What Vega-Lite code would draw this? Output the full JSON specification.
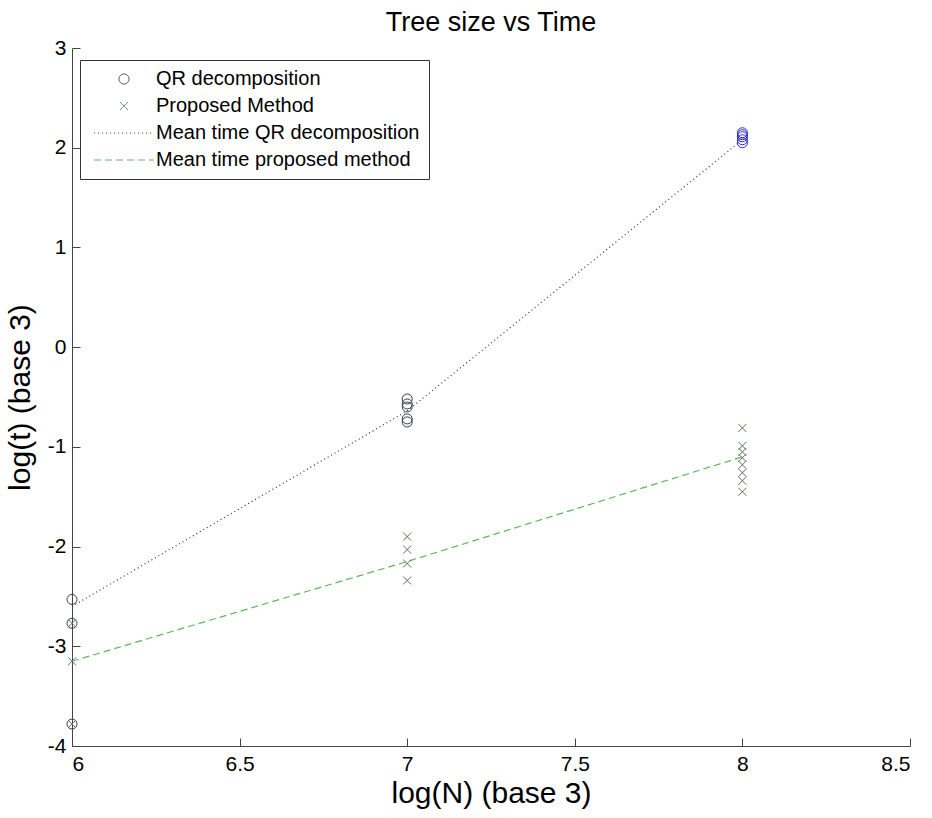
{
  "$schema": "https://vega.github.io/schema/vega-lite/v6.json",
  "width": 838,
  "height": 698,
  "autosize": {"type": "none"},
  "padding": {"left": 72, "top": 48, "right": 22, "bottom": 72},
  "background": "white",
  "title": {"text": "Tree size vs Time", "font": "Liberation Sans", "fontSize": 27, "fontWeight": "normal", "color": "black", "anchor": "middle", "offset": 0},
  "config": {
    "view": {"stroke": null},
    "axis": {
      "labelFont": "Liberation Sans", "labelFontSize": 21, "labelColor": "black",
      "titleFont": "Liberation Sans", "titleFontSize": 30, "titleFontWeight": "normal", "titleColor": "black",
      "domainColor": "#444", "tickColor": "#444", "grid": false, "tickSize": -8,
      "labelExpr": "replace(datum.label, '−', '-')"
    },
    "legend": {
      "orient": "none", "legendX": 8, "legendY": 12,
      "strokeColor": "#333", "fillColor": "white", "padding": 9,
      "labelFont": "Liberation Sans", "labelFontSize": 20, "labelColor": "black", "labelLimit": 0,
      "symbolSize": 100, "symbolStrokeWidth": 1, "symbolOffset": 25, "labelOffset": 22,
      "rowPadding": 7, "symbolFillColor": "transparent"
    }
  },
  "data": {"values": [
    {"n": 6, "t": -2.53, "series": "QR decomposition"},
    {"n": 6, "t": -2.77, "series": "QR decomposition"},
    {"n": 6, "t": -3.78, "series": "QR decomposition"},
    {"n": 7, "t": -0.52, "series": "QR decomposition"},
    {"n": 7, "t": -0.57, "series": "QR decomposition"},
    {"n": 7, "t": -0.60, "series": "QR decomposition"},
    {"n": 7, "t": -0.72, "series": "QR decomposition"},
    {"n": 7, "t": -0.75, "series": "QR decomposition"},
    {"n": 8, "t": 2.05, "series": "QR decomposition"},
    {"n": 8, "t": 2.08, "series": "QR decomposition"},
    {"n": 8, "t": 2.11, "series": "QR decomposition"},
    {"n": 8, "t": 2.13, "series": "QR decomposition"},
    {"n": 8, "t": 2.15, "series": "QR decomposition"},
    {"n": 6, "t": -2.77, "series": "Proposed Method"},
    {"n": 6, "t": -3.15, "series": "Proposed Method"},
    {"n": 6, "t": -3.78, "series": "Proposed Method"},
    {"n": 7, "t": -1.90, "series": "Proposed Method"},
    {"n": 7, "t": -2.03, "series": "Proposed Method"},
    {"n": 7, "t": -2.17, "series": "Proposed Method"},
    {"n": 7, "t": -2.34, "series": "Proposed Method"},
    {"n": 8, "t": -0.81, "series": "Proposed Method"},
    {"n": 8, "t": -0.99, "series": "Proposed Method"},
    {"n": 8, "t": -1.05, "series": "Proposed Method"},
    {"n": 8, "t": -1.11, "series": "Proposed Method"},
    {"n": 8, "t": -1.18, "series": "Proposed Method"},
    {"n": 8, "t": -1.26, "series": "Proposed Method"},
    {"n": 8, "t": -1.34, "series": "Proposed Method"},
    {"n": 8, "t": -1.45, "series": "Proposed Method"},
    {"n": 6, "t": -2.6, "series": "Mean time QR decomposition"},
    {"n": 7, "t": -0.64, "series": "Mean time QR decomposition"},
    {"n": 8, "t": 2.08, "series": "Mean time QR decomposition"},
    {"n": 6, "t": -3.15, "series": "Mean time proposed method"},
    {"n": 7, "t": -2.15, "series": "Mean time proposed method"},
    {"n": 8, "t": -1.1, "series": "Mean time proposed method"}
  ]},
  "encoding": {
    "x": {"field": "n", "type": "quantitative", "scale": {"domain": [6, 8.5], "nice": false, "zero": false},
          "axis": {"title": "log(N) (base 3)", "values": [6, 6.5, 7, 7.5, 8, 8.5], "format": "~g", "labelPadding": 15, "titlePadding": 4}},
    "y": {"field": "t", "type": "quantitative", "scale": {"domain": [-4, 3], "nice": false, "zero": false},
          "axis": {"title": "log(t) (base 3)", "values": [-4, -3, -2, -1, 0, 1, 2, 3], "format": "~g", "labelPadding": 14, "titlePadding": 12}}
  },
  "layer": [
    {
      "transform": [{"filter": "indexof(datum.series, 'Mean') == 0"}],
      "mark": {"type": "line", "strokeWidth": 1.2},
      "encoding": {
        "color": {"field": "series", "type": "nominal", "title": null,
          "scale": {"domain": ["QR decomposition", "Proposed Method", "Mean time QR decomposition", "Mean time proposed method"],
                    "range": ["#3a3a55", "#5c705c", "#333333", "#5cb85c"]}},
        "strokeDash": {"field": "series", "type": "nominal", "title": null,
          "scale": {"domain": ["QR decomposition", "Proposed Method", "Mean time QR decomposition", "Mean time proposed method"],
                    "range": [[1, 0], [1, 0], [1, 3], [7, 4]]}}
      }
    },
    {
      "transform": [{"filter": "indexof(datum.series, 'Mean') != 0"}],
      "mark": {"type": "point", "filled": false, "strokeWidth": 1, "size": 100, "opacity": 1},
      "encoding": {
        "color": {"condition": {"test": "datum.n == 8 && datum.series == 'QR decomposition'", "value": "#2828c8"},
          "field": "series", "type": "nominal", "title": null},
        "shape": {"field": "series", "type": "nominal", "title": null,
          "scale": {"domain": ["QR decomposition", "Proposed Method", "Mean time QR decomposition", "Mean time proposed method"],
                    "range": ["circle", "M-0.8,-0.8L0.8,0.8M-0.8,0.8L0.8,-0.8", "M-6,0L6,0", "M-6,0L6,0"]}}
      }
    }
  ]
}
